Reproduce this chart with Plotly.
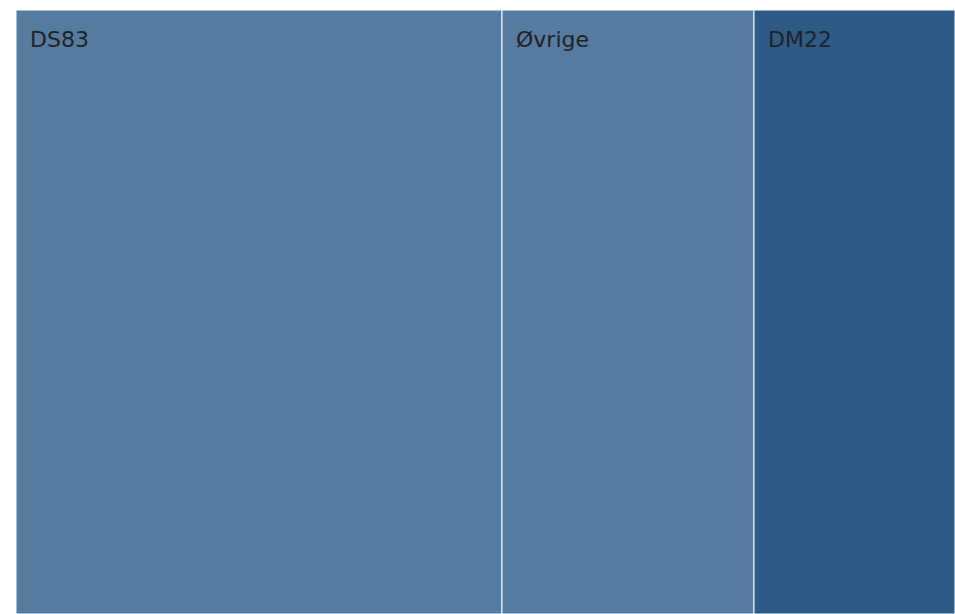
import plotly.graph_objects as go

labels = ["DS83", "Øvrige", "DM22"]
parents = ["", "", ""]
values = [486, 252, 201]
colors = ["#557ba0", "#557ba0", "#2e5a88"]

fig = go.Figure(go.Treemap(
    labels=labels,
    parents=parents,
    values=values,
    marker=dict(colors=colors, line=dict(color="white", width=1),
                pad=dict(t=0, l=0, r=0, b=0)),
    tiling=dict(packing="dice", pad=0),
    textposition="top left",
    textfont=dict(family="DejaVu Sans", size=22, color="#222222"),
    texttemplate="<span style='font-size:5px'>\u2002</span><br>\u2002%{label}",
    sort=False,
    pathbar=dict(visible=False),
))
fig.update_layout(
    width=955, height=614,
    margin=dict(l=16, r=0, t=10, b=0),
    paper_bgcolor="white",
)
fig.write_html(
    "out.html",
    config={"displayModeBar": False},
    post_script="document.body.style.margin='0px';document.body.style.overflow='hidden';",
)
